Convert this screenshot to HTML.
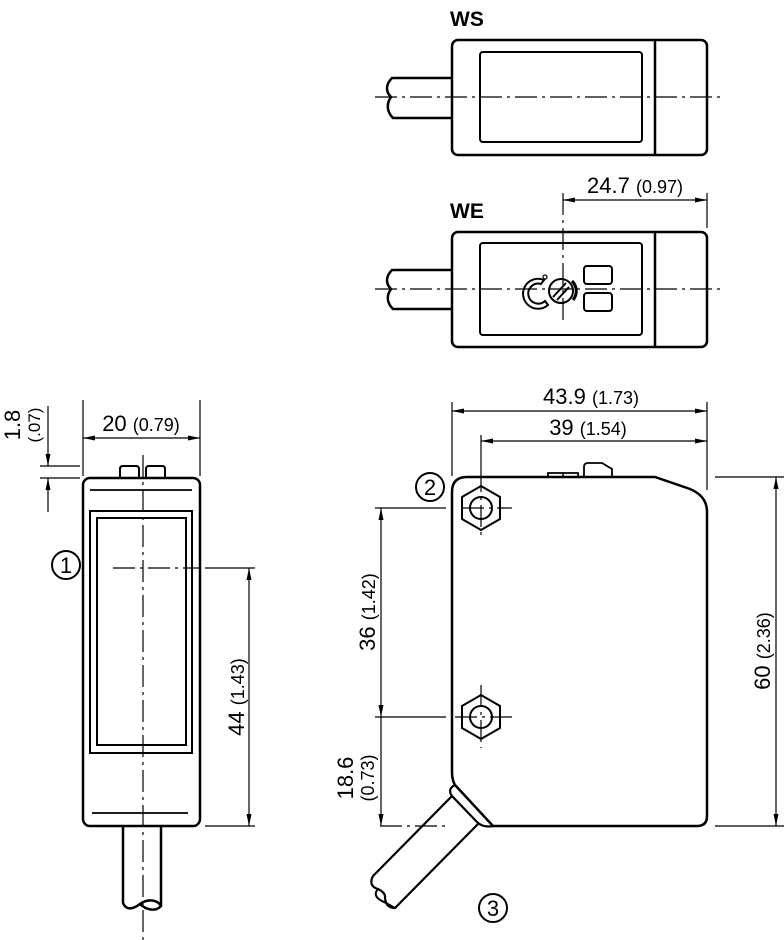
<!DOCTYPE html>
<html><head><style>html,body{margin:0;padding:0;background:#fff}svg{display:block}</style></head>
<body>
<svg width="784" height="940" viewBox="0 0 784 940" xmlns="http://www.w3.org/2000/svg" font-family="Liberation Sans, sans-serif">
<defs>
<marker id="a" viewBox="0 0 12 6" refX="12" refY="3" markerWidth="12" markerHeight="6" orient="auto-start-reverse" markerUnits="userSpaceOnUse"><path d="M0,0.5 L12,3 L0,5.5z" fill="#000"/></marker>
</defs>
<g fill="none" stroke="#000">
<!-- WS -->
<g stroke-width="2.5">
<rect x="452" y="40" width="255" height="115" rx="6"/>
<rect x="480" y="52" width="162" height="90" rx="3" stroke-width="2"/>
<line x1="655" y1="40" x2="655" y2="155"/>
<path d="M452,78 H392 C385,85 386,92 391,97 C386,104 387,112 393,118 H452"/>
<!-- WE -->
<rect x="452" y="232" width="255" height="115" rx="6"/>
<rect x="480" y="243" width="162" height="92" rx="3" stroke-width="2"/>
<line x1="655" y1="232" x2="655" y2="347"/>
<path d="M452,270 H392 C385,277 386,284 391,289 C386,296 387,303 393,309 H452"/>
</g>
<g stroke-width="1.2" stroke-dasharray="22,5,3,5">
<line x1="375" y1="97" x2="720" y2="97"/>
<line x1="375" y1="289" x2="720" y2="289"/>
<line x1="563" y1="193" x2="563" y2="320"/>
</g>
<!-- WE icons -->
<g stroke-width="2">
<path d="M544,280 A15,15 0 1 0 548,305 L545,301 A10,10 0 1 1 541,284 Z"/>
<circle cx="545" cy="277" r="2" stroke-width="1.2"/>
<circle cx="561" cy="291" r="12"/>
<line x1="553" y1="297" x2="566" y2="283"/><line x1="557" y1="300" x2="569" y2="287"/>
<path d="M572,281 A14,14 0 0 1 573,300" stroke-width="3"/>
<rect x="584" y="266" width="28" height="18" rx="3"/>
<rect x="584" y="293" width="28" height="18" rx="3"/>
</g>
<g stroke-width="1.2">
<line x1="707" y1="193" x2="707" y2="228"/>
<line x1="563" y1="200" x2="707" y2="200" marker-start="url(#a)" marker-end="url(#a)"/>
</g>

<!-- Left view -->
<g stroke-width="2.5">
<rect x="83" y="478" width="117" height="348" rx="7"/>
<line x1="90" y1="490" x2="192" y2="490" stroke-width="1.8"/>
<rect x="90" y="511" width="102" height="242" stroke-width="2"/>
<rect x="97" y="518" width="89" height="227" stroke-width="2"/>
<line x1="92" y1="813" x2="188" y2="813" stroke-width="1.8"/>
<path d="M120,478 V469 Q120,466 123,466 H136 Q139,466 139,469 V478" stroke-width="2"/>
<path d="M146,478 V469 Q146,466 149,466 H162 Q165,466 165,469 V478" stroke-width="2"/>
<path d="M123,826 V903 C126,910 132,910 140,904 C148,898 158,900 161,906 C156,912 146,910 140,904 M161,906 V826"/>
</g>
<g stroke-width="1.2" stroke-dasharray="22,5,3,5">
<line x1="143" y1="455" x2="143" y2="940"/>
<line x1="113" y1="568" x2="200" y2="568"/>
</g>
<g stroke-width="1.2">
<line x1="83" y1="400" x2="83" y2="476"/>
<line x1="200" y1="400" x2="200" y2="476"/>
<line x1="83" y1="438" x2="200" y2="438" marker-start="url(#a)" marker-end="url(#a)"/>
<line x1="40" y1="466" x2="80" y2="466"/>
<line x1="40" y1="478" x2="80" y2="478"/>
<line x1="48" y1="406" x2="48" y2="466" marker-end="url(#a)"/>
<line x1="48" y1="512" x2="48" y2="478" marker-end="url(#a)"/>
<line x1="205" y1="568" x2="255" y2="568"/>
<line x1="205" y1="826" x2="255" y2="826"/>
<line x1="249" y1="568" x2="249" y2="826" marker-start="url(#a)" marker-end="url(#a)"/>
</g>

<!-- Right main view -->
<g stroke-width="2.5">
<path d="M467,477 H655 L690,489 Q707,496 707,512 V816 Q707,826 697,826 H493 L455,785 Q452,780 452,772 V492 Q452,477 467,477 Z"/>
<path d="M548,477 V473 H578 V477" stroke-width="1.8"/>
<line x1="563" y1="473" x2="563" y2="477" stroke-width="1.5"/>
<path d="M584,477 V467 Q584,463 588,463 H602 L612,469 V477" stroke-width="1.8"/>
<path d="M455,785 Q447,789 452,796 L477,822 Q483,828 493,826" stroke-width="2.2"/>
<path d="M452,796 L373,876 Q368,886 378,889 Q386,893 385,898 Q386,908 395,908 L478,824" stroke-width="2.2"/>
<path d="M378,889 Q372,896 382,901 Q390,905 395,908" stroke-width="2"/>
<polygon points="481,486 500,497 500,519 481,530 462,519 462,497" stroke-width="2"/>
<circle cx="481" cy="508" r="11" stroke-width="2"/>
<polygon points="481,695 500,706 500,728 481,739 462,728 462,706" stroke-width="2"/>
<circle cx="481" cy="717" r="11" stroke-width="2"/>
</g>
<g stroke-width="1.2" stroke-dasharray="22,5,3,5">
<line x1="462" y1="508" x2="512" y2="508"/>
<line x1="481" y1="470" x2="481" y2="540"/>
<line x1="455" y1="717" x2="512" y2="717"/>
<line x1="481" y1="685" x2="481" y2="748"/>
<line x1="380" y1="826" x2="450" y2="826"/>
</g>
<g stroke-width="1.2">
<line x1="452" y1="402" x2="452" y2="476"/>
<line x1="707" y1="402" x2="707" y2="490"/>
<line x1="481" y1="435" x2="481" y2="470"/>
<line x1="452" y1="411" x2="707" y2="411" marker-start="url(#a)" marker-end="url(#a)"/>
<line x1="481" y1="441" x2="707" y2="441" marker-start="url(#a)" marker-end="url(#a)"/>
<line x1="375" y1="508" x2="446" y2="508"/>
<line x1="375" y1="717" x2="446" y2="717"/>
<line x1="381" y1="508" x2="381" y2="717" marker-start="url(#a)" marker-end="url(#a)"/>
<line x1="381" y1="760" x2="381" y2="826" marker-end="url(#a)"/>
<line x1="381" y1="717" x2="381" y2="760"/>
<line x1="715" y1="477" x2="784" y2="477"/>
<line x1="715" y1="826" x2="784" y2="826"/>
<line x1="776" y1="477" x2="776" y2="826" marker-start="url(#a)" marker-end="url(#a)"/>
</g>
<g stroke-width="2">
<circle cx="66" cy="565" r="14"/>
<circle cx="430" cy="487" r="14"/>
<circle cx="493" cy="908" r="14"/>
</g>
</g>

<g fill="#000">
<text x="450" y="26" font-size="21" font-weight="bold">WS</text>
<text x="450" y="218" font-size="21" font-weight="bold">WE</text>
<text x="635" y="193" font-size="22" text-anchor="middle">24.7 <tspan font-size="18">(0.97)</tspan></text>
<text x="141" y="431" font-size="22" text-anchor="middle">20 <tspan font-size="18">(0.79)</tspan></text>
<text x="591" y="404" font-size="22" text-anchor="middle">43.9 <tspan font-size="18">(1.73)</tspan></text>
<text x="588" y="435" font-size="22" text-anchor="middle">39 <tspan font-size="18">(1.54)</tspan></text>
<text transform="translate(244,697) rotate(-90)" font-size="22" text-anchor="middle">44 <tspan font-size="18">(1.43)</tspan></text>
<text transform="translate(770,651) rotate(-90)" font-size="22" text-anchor="middle">60 <tspan font-size="18">(2.36)</tspan></text>
<text transform="translate(375,612) rotate(-90)" font-size="22" text-anchor="middle">36 <tspan font-size="18">(1.42)</tspan></text>
<text transform="translate(353,778) rotate(-90)" font-size="22" text-anchor="middle">18.6</text>
<text transform="translate(374,778) rotate(-90)" font-size="18" text-anchor="middle">(0.73)</text>
<text transform="translate(20,425) rotate(-90)" font-size="22" text-anchor="middle">1.8</text>
<text transform="translate(40,425) rotate(-90)" font-size="17" text-anchor="middle">(.07)</text>
<text x="66" y="573" font-size="22" text-anchor="middle">1</text>
<text x="430" y="495" font-size="22" text-anchor="middle">2</text>
<text x="493" y="916" font-size="22" text-anchor="middle">3</text>
</g>
</svg>
</body></html>
